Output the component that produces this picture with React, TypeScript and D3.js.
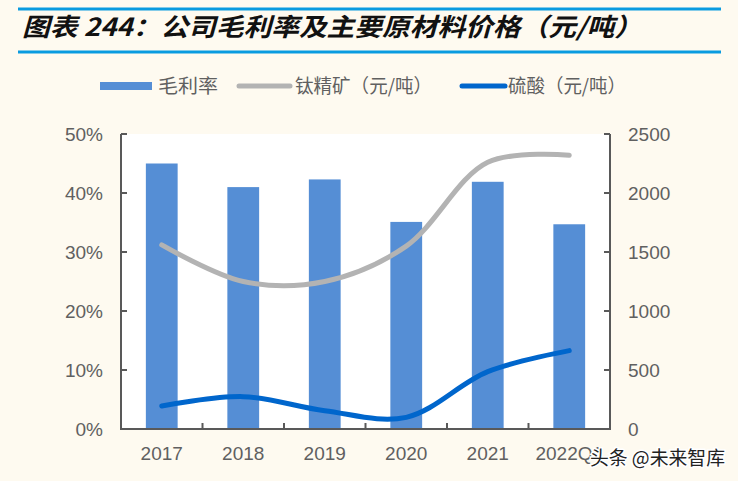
import React from "react";
import * as d3 from "d3";

const categories = ["2017", "2018", "2019", "2020", "2021", "2022Q1"];
const grossMargin = [45.0, 41.0, 42.3, 35.1, 41.9, 34.7];
const titaniumPrice = [1560, 1250, 1250, 1550, 2260, 2320];
const sulfuricPrice = [195, 274, 155, 99, 486, 664];
const leftTicks = [0, 10, 20, 30, 40, 50];
const rightTicks = [0, 500, 1000, 1500, 2000, 2500];
const legendLabels = ["毛利率", "钛精矿（元/吨）", "硫酸（元/吨）"];
const titleText = "图表 244：公司毛利率及主要原材料价格（元/吨）";
const watermark = "头条 @未来智库";

const W = 738;
const H = 481;
const plot = { left: 121, right: 610, top: 134, bottom: 429 };
const axisColor = "#595959";
const labelColor = "#606060";
const barColor = "#558ED5";
const greyColor = "#B3B3B3";
const blueColor = "#0066CC";
const numFont = "'Liberation Sans', Arial, sans-serif";
const cjkFont = "'Noto Sans CJK SC', sans-serif";

export default function App() {
  const x = d3
    .scaleBand<string>()
    .domain(categories)
    .range([plot.left, plot.right])
    .paddingInner(0.61)
    .paddingOuter(0.305);
  const xOuter = d3.scaleBand<string>().domain(categories).range([plot.left, plot.right]);
  const yL = d3.scaleLinear().domain([0, 50]).range([plot.bottom, plot.top]);
  const yR = d3.scaleLinear().domain([0, 2500]).range([plot.bottom, plot.top]);
  const cx = (c: string) => (xOuter(c) as number) + xOuter.bandwidth() / 2;

  const lineGen = d3
    .line<number>()
    .x((_, i) => cx(categories[i]))
    .y((d) => yR(d))
    .curve(d3.curveCatmullRom.alpha(0.5));

  const boundaries = categories.slice(1).map((c) => xOuter(c) as number);

  return (
    <div style={{ position: "fixed", left: 0, top: 0, width: W, height: H }}>
      <svg width={W} height={H} style={{ display: "block" }}>
        <rect x={0} y={0} width={W} height={H} fill="#FEFAF0" />
        {/* title */}
        <line x1={18} x2={721} y1={9} y2={9} stroke="#0A9BE0" strokeWidth={3} />
        <line x1={18} x2={721} y1={52} y2={52} stroke="#0A9BE0" strokeWidth={3} />
        <text
          x={22}
          y={36}
          fontFamily={cjkFont}
          fontSize={25}
          fontWeight="bold"
          fontStyle="italic"
          fill="#111"
          textLength={620}
          lengthAdjust="spacingAndGlyphs"
        >
          {titleText}
        </text>

        {/* legend */}
        <rect x={100} y={82} width={52} height={8} fill={barColor} />
        <text x={158} y={93} fontFamily={cjkFont} fontSize={19} fill={labelColor} textLength={60} lengthAdjust="spacingAndGlyphs">
          {legendLabels[0]}
        </text>
        <line x1={239} x2={290} y1={86} y2={86} stroke={greyColor} strokeWidth={5} strokeLinecap="round" />
        <text x={295} y={93} fontFamily={cjkFont} fontSize={19} fill={labelColor} textLength={137} lengthAdjust="spacingAndGlyphs">
          {legendLabels[1]}
        </text>
        <line x1={462} x2={505} y1={86} y2={86} stroke={blueColor} strokeWidth={5} strokeLinecap="round" />
        <text x={508} y={93} fontFamily={cjkFont} fontSize={19} fill={labelColor} textLength={118} lengthAdjust="spacingAndGlyphs">
          {legendLabels[2]}
        </text>

        {/* plot area */}
        <rect x={plot.left} y={plot.top} width={plot.right - plot.left} height={plot.bottom - plot.top} fill="#FFFFFF" />

        {categories.map((c, i) => (
          <rect
            key={c}
            x={x(c)}
            y={yL(grossMargin[i])}
            width={x.bandwidth()}
            height={plot.bottom - yL(grossMargin[i])}
            fill={barColor}
          />
        ))}

        <path d={lineGen(titaniumPrice) || ""} fill="none" stroke={greyColor} strokeWidth={5} strokeLinecap="round" />
        <path d={lineGen(sulfuricPrice) || ""} fill="none" stroke={blueColor} strokeWidth={5} strokeLinecap="round" />

        {/* axes */}
        <line x1={plot.left} x2={plot.left} y1={plot.top} y2={plot.bottom} stroke={axisColor} strokeWidth={2} />
        <line x1={plot.right} x2={plot.right} y1={plot.top} y2={plot.bottom} stroke={axisColor} strokeWidth={2} />
        <line x1={plot.left - 1} x2={plot.right + 1} y1={plot.bottom} y2={plot.bottom} stroke={axisColor} strokeWidth={2} />
        {leftTicks.map((t) => (
          <g key={"l" + t}>
            <line x1={plot.left} x2={plot.left + 6} y1={yL(t)} y2={yL(t)} stroke={axisColor} strokeWidth={2} />
            <text x={103} y={yL(t)} dy="0.36em" textAnchor="end" fontFamily={numFont} fontSize={19} fill={labelColor}>
              {t + "%"}
            </text>
          </g>
        ))}
        {rightTicks.map((t) => (
          <g key={"r" + t}>
            <line x1={plot.right - 6} x2={plot.right} y1={yR(t)} y2={yR(t)} stroke={axisColor} strokeWidth={2} />
            <text x={628} y={yR(t)} dy="0.36em" textAnchor="start" fontFamily={numFont} fontSize={19} fill={labelColor}>
              {t}
            </text>
          </g>
        ))}
        {boundaries.map((b, i) => (
          <line key={"b" + i} x1={b} x2={b} y1={plot.bottom - 6} y2={plot.bottom} stroke={axisColor} strokeWidth={2} />
        ))}
        {categories.map((c) => (
          <text key={"x" + c} x={cx(c)} y={460} textAnchor="middle" fontFamily={numFont} fontSize={19} fill={labelColor}>
            {c}
          </text>
        ))}

        {/* watermark */}
        <text
          x={590}
          y={465}
          fontFamily={cjkFont}
          fontSize={19}
          fill="#222"
          stroke="#FFFFFF"
          strokeWidth={3}
          paintOrder="stroke"
          textLength={135}
          lengthAdjust="spacingAndGlyphs"
        >
          {watermark}
        </text>
      </svg>
    </div>
  );
}
